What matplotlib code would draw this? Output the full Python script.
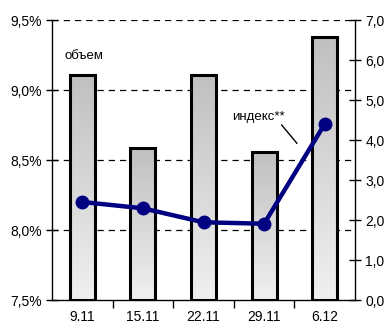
import matplotlib
matplotlib.use("Agg")
import matplotlib.pyplot as plt
import numpy as np
from matplotlib.ticker import FuncFormatter, FixedLocator
from matplotlib.colors import LinearSegmentedColormap

plt.rcParams['font.family'] = ['Liberation Sans', 'DejaVu Sans']

categories = ["9.11", "15.11", "22.11", "29.11", "6.12"]
volume = [5.62, 3.79, 5.62, 3.71, 6.57]          # bars, right axis
index_pct = [8.20, 8.155, 8.055, 8.045, 8.757]   # line, left axis
left_ticks = [7.5, 8.0, 8.5, 9.0, 9.5]
right_ticks = [0, 1, 2, 3, 4, 5, 6, 7]

fig = plt.figure(figsize=(3.9, 3.25), dpi=100)
ax = fig.add_axes([52/390, 25/325, 303/390, 280/325])
ax2 = ax.twinx()

x = np.arange(len(categories))
ax.set_xlim(-0.5, len(categories) - 0.5)
ax.set_ylim(7.5, 9.5)
ax2.set_ylim(0, 7)

ax2.set_zorder(ax.get_zorder() - 1)
ax.patch.set_visible(False)
ax2.patch.set_visible(True)
ax2.patch.set_facecolor('white')

# dashed grid (left-axis levels) behind the bars
for t in left_ticks[1:]:
    yv = (t - 7.5) / 2.0 * 7
    ax2.axhline(yv, color='black', lw=0.9, dashes=(5, 4), zorder=1)

# gradient bars on the right axis
w = 0.41
grad = np.linspace(0, 1, 256).reshape(-1, 1)
cmap = LinearSegmentedColormap.from_list('g', ['#f0f0f0', '#c0c0c0'])
bars = ax2.bar(x, volume, width=w, facecolor='none', edgecolor='black', linewidth=2.2, zorder=3)
for b in bars:
    x0, y0 = b.get_x(), b.get_y()
    bw, bh = b.get_width(), b.get_height()
    im = ax2.imshow(grad, extent=[x0, x0 + bw, y0, y0 + bh], origin='lower', cmap=cmap,
                    aspect='auto', zorder=2)
    im.set_clip_path(b)
ax2.set_xlim(-0.5, len(categories) - 0.5)
ax2.set_ylim(0, 7)

# line on the left axis
ax.plot(x, index_pct, color='#000080', lw=3.2, marker='o', markersize=9,
        zorder=5, solid_capstyle='round')

# spines
for a in (ax, ax2):
    a.spines['top'].set_visible(False)
ax.spines['right'].set_visible(False)
ax2.spines['left'].set_visible(False)
ax2.spines['bottom'].set_visible(False)
for s in ('left', 'bottom'):
    ax.spines[s].set_linewidth(1.0)
ax2.spines['right'].set_linewidth(1.0)

# ticks
ax.yaxis.set_major_locator(FixedLocator(left_ticks))
ax.yaxis.set_major_formatter(FuncFormatter(lambda v, p: f"{v:.1f}%".replace('.', ',')))
ax2.yaxis.set_major_locator(FixedLocator(right_ticks))
ax2.yaxis.set_major_formatter(FuncFormatter(lambda v, p: f"{v:.1f}".replace('.', ',')))
ax.tick_params(axis='y', direction='inout', length=9, width=1, labelsize=10, pad=3)
ax2.tick_params(axis='y', direction='inout', length=9, width=1, labelsize=10, pad=3)

ax.set_xticks(x)
ax.set_xticklabels(categories)
ax.tick_params(axis='x', length=0, labelsize=10, pad=7)
ax.set_xticks(np.arange(-0.5, len(categories), 1.0)[1:-1], minor=True)
ax.tick_params(axis='x', which='minor', direction='out', length=6, width=1)

# annotations
ax.text(0.03, 9.24, "объем", fontsize=9.5, ha='center', va='center')
ax.text(2.9, 8.81, "индекс**", fontsize=9.5, ha='center', va='center')
ax.plot([3.29, 3.54], [8.75, 8.62], color='black', lw=1.0, zorder=4)

fig.savefig("out.png", dpi=100)
